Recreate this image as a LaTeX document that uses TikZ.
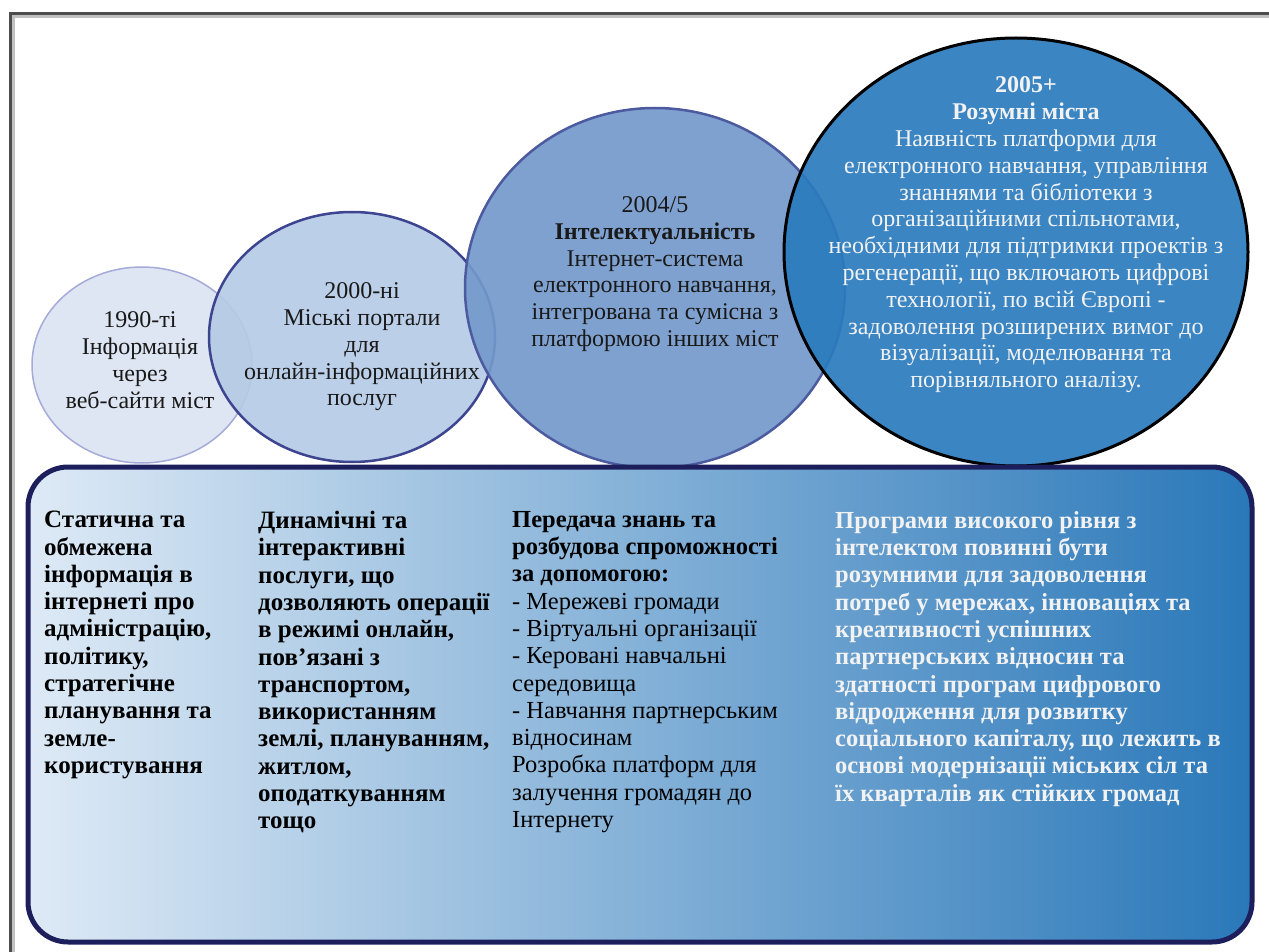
\documentclass[tikz,border=0pt]{standalone}
\usepackage{fontspec}
\setmainfont{Liberation Serif}
\usepackage{tikz}
\usetikzlibrary{shapes.geometric}

\definecolor{frameline}{HTML}{4D4D4D}
\definecolor{navyline}{HTML}{1C1F5C}
\definecolor{boxleft}{HTML}{DEEAF6}
\definecolor{boxright}{HTML}{2A78B9}
\definecolor{eraone}{HTML}{DCE4F2}
\definecolor{eraoneline}{HTML}{A5ABD8}
\definecolor{eratwo}{HTML}{B6CBE6}
\definecolor{eratwoline}{HTML}{3D4590}
\definecolor{erathree}{HTML}{7499CB}
\definecolor{erathreeline}{HTML}{4C5BA0}
\definecolor{erafour}{HTML}{2A7BBE}

\begin{document}
\begin{tikzpicture}[x=1pt, y=-1pt,
                era/.style={ellipse, inner sep=0pt, fill opacity=0.92},
                eratext/.style={align=center, inner sep=0pt, font=\fontsize{24}{26.8}\selectfont, text=black!90},
                coltext/.style={align=left, anchor=north west, inner sep=0pt, font=\fontsize{24.5}{27.3}\selectfont},
            ]
                \useasboundingbox (0,0) rectangle (1269,952);

                % Frame
                \begin{scope}
                    \clip (0,0) rectangle (1269,952);
                    \draw[frameline!35, line width=3pt] (13,960) -- (13,17) -- (1280,17);
                    \draw[frameline, line width=3pt] (10,960) -- (10,14) -- (1280,14);
                \end{scope}

                % Circles
                \node[era, draw=eraoneline, line width=1.5pt, fill=eraone, minimum width=220pt, minimum height=196pt] (c1990) at (142,365) {};
                \node[era, draw=eratwoline, line width=2.5pt, fill=eratwo, minimum width=286pt, minimum height=250pt] (c2000) at (352,337) {};
                \node[era, draw=erathreeline, line width=2.5pt, fill=erathree, minimum width=380pt, minimum height=360pt] (c2004) at (655,288) {};
                \node[era, draw=black, line width=3pt, fill=erafour, minimum width=464pt, minimum height=428pt] (c2005) at (1016,252) {};

                % Circle texts
                \node[eratext] (t1990) at (140,360) {1990-ті\\Інформація\\через\\веб-сайти міст};
                \node[eratext] (t2000) at (362,347) {2000-ні\\Міські портали\\для\\онлайн-інформаційних\\послуг};
                \node[eratext] (t2004) at (655,274) {2004/5\\\textbf{Інтелектуальність}\\Інтернет-система\\електронного навчання,\\інтегрована та сумісна з\\платформою інших міст};
                \node[eratext, text=white!95!black] (t2005) at (1026,235) {\textbf{2005+}\\\textbf{Розумні міста}\\Наявність платформи для\\електронного навчання, управління\\знаннями та бібліотеки з\\організаційними спільнотами,\\необхідними для підтримки проектів з\\регенерації, що включають цифрові\\технології, по всій Європі -\\задоволення розширених вимог до\\візуалізації, моделювання та\\порівняльного аналізу.};

                % Stages box
                \node[draw=navyline, line width=5pt, rounded corners=40pt, left color=boxleft, right color=boxright, minimum width=1224pt, minimum height=475pt, inner sep=0pt] (stages) at (640,704.5) {};

                % Column texts
                \node[coltext, font=\fontsize{25}{27.3}\selectfont\bfseries] (col1) at (44,511) {Статична та\\обмежена\\інформація в\\інтернеті про\\адміністрацію,\\політику,\\стратегічне\\планування та\\земле-\\користування};
                \node[coltext, font=\fontsize{25}{27.3}\selectfont\bfseries] (col2) at (258,511) {Динамічні та\\інтерактивні\\послуги, що\\дозволяють операції\\в режимі онлайн,\\пов’язані з\\транспортом,\\використанням\\землі, плануванням,\\житлом,\\оподаткуванням\\тощо};
                \node[coltext] (col3) at (512,511) {\textbf{Передача знань та}\\\textbf{розбудова спроможності}\\\textbf{за допомогою:}\\- Мережеві громади\\- Віртуальні організації\\- Керовані навчальні\\середовища\\- Навчання партнерським\\відносинам\\Розробка платформ для\\залучення громадян до\\Інтернету};
                \node[coltext, font=\fontsize{24.5}{27.3}\selectfont\bfseries, text=white!95!black] (col4) at (835,511) {Програми високого рівня з\\інтелектом повинні бути\\розумними для задоволення\\потреб у мережах, інноваціях та\\креативності успішних\\партнерських відносин та\\здатності програм цифрового\\відродження для розвитку\\соціального капіталу, що лежить в\\основі модернізації міських сіл та\\їх кварталів як стійких громад};
            \end{tikzpicture}
\end{document}
